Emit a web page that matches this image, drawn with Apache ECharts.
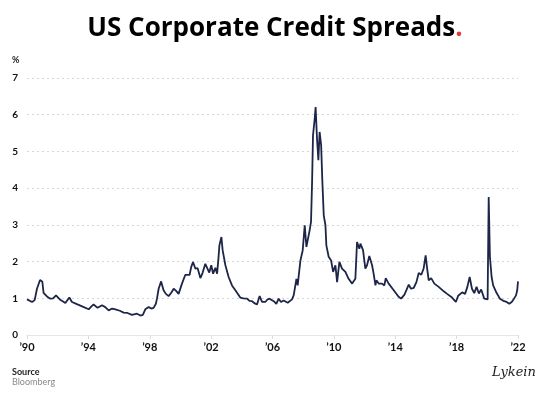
<!DOCTYPE html>
<html>
<head>
<meta charset="utf-8">
<script src="https://cdn.jsdelivr.net/npm/echarts@6/dist/echarts.min.js"></script>
<style>
  html, body { margin: 0; padding: 0; background: #fff; }
  #chart { width: 550px; height: 398px; }
</style>
</head>
<body>
<div id="chart"></div>
<script>
// spread series (decimal year, %)
var years = [
  1990.00, 1990.33, 1990.50, 1990.65, 1990.85, 1990.93, 1991.00, 1991.08, 1991.30, 1991.52,
  1991.70, 1991.89, 1992.17, 1992.50, 1992.76, 1992.93, 1993.25, 1993.59, 1994.02, 1994.20,
  1994.34, 1994.60, 1994.89, 1995.10, 1995.32, 1995.55, 1995.76, 1996.05, 1996.30, 1996.55,
  1996.84, 1997.17, 1997.39, 1997.55, 1997.71, 1997.93, 1998.10, 1998.25, 1998.40, 1998.47,
  1998.58, 1998.74, 1998.90, 1999.05, 1999.23, 1999.40, 1999.56, 1999.72, 1999.88, 2000.10,
  2000.32, 2000.45, 2000.60, 2000.70, 2000.82, 2000.97, 2001.12, 2001.30, 2001.45, 2001.62,
  2001.73, 2001.88, 2002.01, 2002.13, 2002.28, 2002.39, 2002.48, 2002.54, 2002.67, 2002.75,
  2002.93, 2003.14, 2003.36, 2003.58, 2003.90, 2004.10, 2004.34, 2004.50, 2004.67, 2004.85,
  2004.99, 2005.16, 2005.32, 2005.53, 2005.65, 2005.81, 2006.08, 2006.25, 2006.40, 2006.55,
  2006.73, 2006.99, 2007.27, 2007.38,
  2007.56, 2007.64, 2007.82, 2007.97, 2008.10, 2008.21, 2008.32, 2008.42, 2008.51, 2008.58,
  2008.64, 2008.75, 2008.81, 2008.90, 2008.99, 2009.07, 2009.17, 2009.25, 2009.34, 2009.45,
  2009.51, 2009.66, 2009.82, 2009.95, 2010.10, 2010.21, 2010.36, 2010.53, 2010.75, 2010.96,
  2011.19, 2011.40, 2011.51, 2011.66, 2011.73, 2011.90, 2012.05, 2012.16, 2012.31, 2012.49,
  2012.59, 2012.71, 2012.77, 2012.92, 2013.14, 2013.29, 2013.38, 2013.57, 2013.90, 2014.22,
  2014.38, 2014.60, 2014.88, 2015.03, 2015.20, 2015.38, 2015.53, 2015.70, 2015.85, 2015.98,
  2016.08, 2016.18, 2016.34, 2016.55, 2016.83, 2017.16, 2017.38, 2017.70, 2017.95, 2018.10,
  2018.36, 2018.55, 2018.70, 2018.85, 2019.00, 2019.15, 2019.30, 2019.45, 2019.60, 2019.80,
  2020.02, 2020.09, 2020.17, 2020.28, 2020.38, 2020.50, 2020.60, 2020.82, 2021.04, 2021.26,
  2021.43, 2021.59, 2021.74, 2021.87, 2021.95, 2022.00
];
var spreads = [
  0.97, 0.90, 0.95, 1.26, 1.50, 1.55, 1.45, 1.15, 1.05, 0.99,
  1.00, 1.08, 0.96, 0.87, 1.02, 0.90, 0.84, 0.78, 0.70, 0.78,
  0.83, 0.74, 0.81, 0.76, 0.67, 0.72, 0.70, 0.66, 0.61, 0.60,
  0.55, 0.58, 0.53, 0.55, 0.70, 0.76, 0.72, 0.74, 0.85, 0.99,
  1.26, 1.46, 1.22, 1.12, 1.06, 1.15, 1.26, 1.20, 1.12, 1.40,
  1.64, 1.62, 1.64, 1.85, 1.99, 1.81, 1.82, 1.55, 1.70, 1.94,
  1.99, 1.70, 1.90, 1.67, 1.83, 1.67, 2.10, 2.44, 2.67, 2.31,
  1.90, 1.58, 1.35, 1.22, 1.02, 1.00, 0.99, 0.93, 0.92, 0.86,
  0.83, 1.06, 0.90, 0.90, 0.96, 0.99, 0.92, 0.85, 0.99, 0.90,
  0.94, 0.88, 0.97, 1.08,
  1.53, 1.35, 2.03, 2.31, 2.99, 2.40, 2.40, 2.85, 3.08, 4.17,
  5.44, 5.89, 6.21, 5.35, 4.76, 5.53, 5.17, 4.17, 3.26, 2.99,
  2.44, 2.13, 2.03, 1.72, 1.90, 1.44, 1.99, 1.81, 1.72, 1.53,
  1.40, 1.53, 2.53, 2.35, 2.49, 2.31, 1.81, 1.90, 2.15, 1.90,
  1.67, 1.35, 1.49, 1.40, 1.40, 1.35, 1.55, 1.40, 1.22, 1.04,
  0.99, 1.10, 1.37, 1.26, 1.28, 1.44, 1.69, 1.64, 1.81, 2.17,
  1.81, 1.49, 1.55, 1.40, 1.31, 1.19, 1.12, 1.02, 0.90, 1.07,
  1.16, 1.12, 1.31, 1.58, 1.26, 1.14, 1.31, 1.13, 1.24, 0.99,
  0.97, 3.76, 2.13, 1.58, 1.35, 1.38, 1.15, 0.99, 0.93, 0.90,
  0.85, 0.90, 0.99, 1.08, 1.22, 1.46
];
var yTicks = [0, 1, 2, 3, 4, 5, 6, 7];
var xTickYears = [1990, 1994, 1998, 2002, 2006, 2010, 2014, 2018, 2022];

var points = [];
for (var i = 0; i < years.length; i++) {
  points.push([years[i], spreads[i]]);
}

var chart = echarts.init(document.getElementById('chart'));
var option = {
  animation: false,
  backgroundColor: '#fff',
  title: {
    text: '{a|US Corporate Credit Spreads}{b|.}',
    left: 'center',
    top: 11,
    textStyle: {
      rich: {
        a: { fontFamily: 'Open Sans', fontWeight: 'bold', fontSize: 26, color: '#000' },
        b: { fontFamily: 'Open Sans', fontWeight: 'bold', fontSize: 26, color: '#e8363a' }
      }
    }
  },
  grid: { left: 27, right: 32, top: 78, bottom: 63 },
  xAxis: {
    type: 'value',
    min: xTickYears[0],
    max: xTickYears[xTickYears.length - 1],
    interval: 4,
    axisLine: { show: true, lineStyle: { color: '#e6e6e6', width: 1 } },
    axisTick: { show: true, length: 4, lineStyle: { color: '#dcdcdc' } },
    splitLine: { show: false },
    axisLabel: {
      margin: 7,
      fontFamily: 'Lato',
      fontWeight: 'bold',
      fontSize: 11,
      color: '#111',
      formatter: function (v) { return '\u2019' + String(v).slice(2); }
    }
  },
  yAxis: {
    type: 'value',
    min: yTicks[0],
    max: yTicks[yTicks.length - 1],
    interval: 1,
    axisLine: { show: false },
    axisTick: { show: false },
    splitLine: { lineStyle: { color: '#d6d6d6', type: [2, 3], width: 1 } },
    axisLabel: {
      margin: 9,
      fontFamily: 'Lato',
      fontWeight: 'bold',
      fontSize: 10,
      color: '#111',
      showMinLabel: true
    }
  },
  graphic: [
    { type: 'text', left: 12, top: 56, style: { text: '%', font: 'bold 9px Lato', fill: '#222' } },
    { type: 'text', left: 12, top: 368, style: { text: 'Source', font: 'bold 9px Lato', fill: '#222' } },
    { type: 'text', left: 12, top: 378, style: { text: 'Bloomberg', font: '9px Lato', fill: '#8a8a8a' } },
    { type: 'text', left: 492, top: 366, style: { text: 'Lykein', font: 'italic 13px "DejaVu Serif"', fill: '#1a1a1a' } }
  ],
  series: [{
    type: 'line',
    data: points,
    showSymbol: false,
    lineStyle: { color: '#1d2548', width: 1.8 },
    z: 3
  }]
};
chart.setOption(option);
</script>
</body>
</html>
